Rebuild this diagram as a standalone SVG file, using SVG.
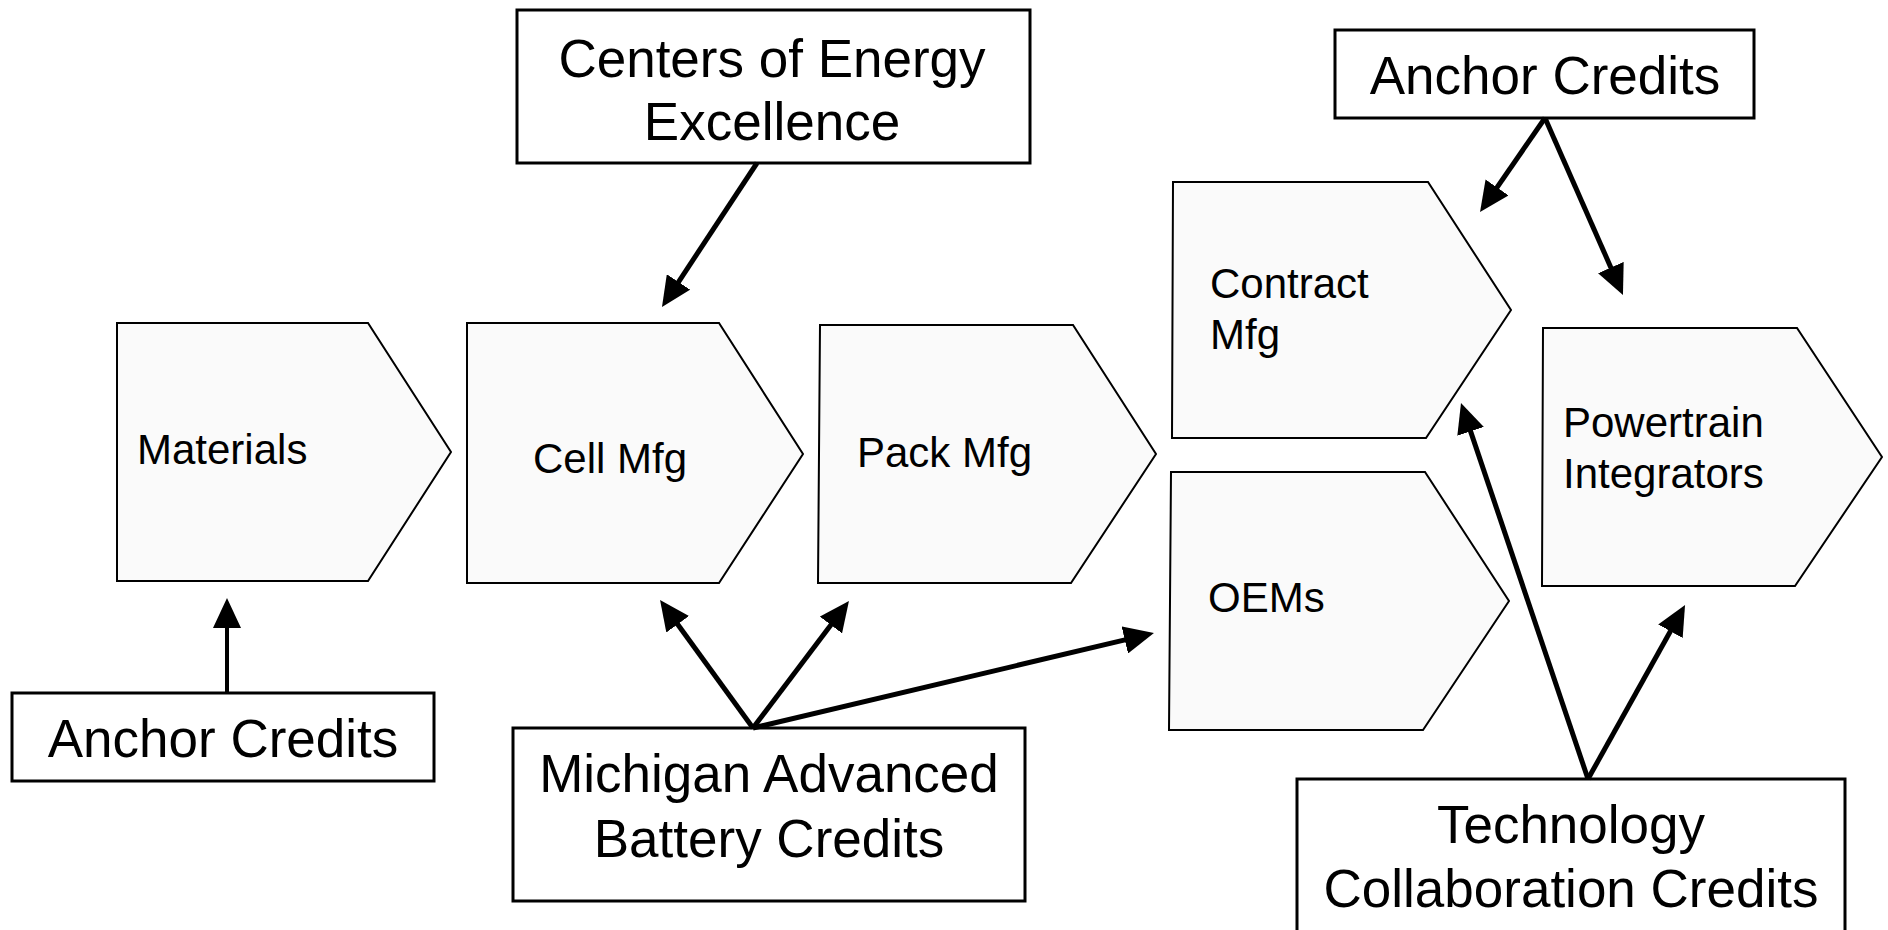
<svg xmlns="http://www.w3.org/2000/svg" width="1888" height="930" viewBox="0 0 1888 930">
<style>
.box{fill:#ffffff;stroke:#000;stroke-width:3}
.stage{fill:#fafafa;stroke:#000;stroke-width:2}
.big{font-family:"Liberation Sans",Arial,sans-serif;font-size:53px;fill:#000;text-anchor:middle}
.lab{font-family:"Liberation Sans",Arial,sans-serif;font-size:42px;fill:#000}
.con{stroke:#000;stroke-width:5;fill:none;marker-end:url(#ah)}
</style>
<defs>
<marker id="ah" markerUnits="userSpaceOnUse" markerWidth="30" markerHeight="28" viewBox="0 0 30 28" refX="10" refY="14" orient="auto">
<path d="M0,0 L30,14 L0,28 z" fill="#000"/>
</marker>
</defs>
<rect width="1888" height="930" fill="#fff"/>

<g id="centers">
<rect class="box" x="517" y="10" width="513" height="153"/>
<text class="big" x="772" y="77">Centers of Energy</text>
<text class="big" x="772" y="140">Excellence</text>
</g>
<g id="anchor-top">
<rect class="box" x="1335" y="30" width="419" height="88"/>
<text class="big" x="1545" y="94">Anchor Credits</text>
</g>
<g id="materials">
<path class="stage" d="M117,323 L368,323 L451,452 L368,581 L117,581 Z"/>
<text class="lab" x="137" y="464">Materials</text>
</g>
<g id="cell">
<path class="stage" d="M467,323 L719,323 L803,454 L719,583 L467,583 Z"/>
<text class="lab" x="533" y="473">Cell Mfg</text>
</g>
<g id="pack">
<path class="stage" d="M820,325 L1073,325 L1156,454 L1071,583 L818,583 Z"/>
<text class="lab" x="857" y="467">Pack Mfg</text>
</g>
<g id="contract">
<path class="stage" d="M1173,182 L1428,182 L1511,310 L1426,438 L1172,438 Z"/>
<text class="lab" x="1210" y="298">Contract</text>
<text class="lab" x="1210" y="349">Mfg</text>
</g>
<g id="oems">
<path class="stage" d="M1171,472 L1425,472 L1509,601 L1423,730 L1169,730 Z"/>
<text class="lab" x="1208" y="612">OEMs</text>
</g>
<g id="powertrain">
<path class="stage" d="M1543,328 L1797,328 L1882,457 L1795,586 L1542,586 Z"/>
<text class="lab" x="1563" y="437">Powertrain</text>
<text class="lab" x="1563" y="488">Integrators</text>
</g>
<g id="anchor-bottom">
<rect class="box" x="12" y="693" width="422" height="88"/>
<text class="big" x="223" y="757">Anchor Credits</text>
</g>
<g id="michigan">
<rect class="box" x="513" y="728" width="512" height="173"/>
<text class="big" x="769" y="792">Michigan Advanced</text>
<text class="big" x="769" y="857">Battery Credits</text>
</g>
<g id="technology">
<rect class="box" x="1297" y="779" width="548" height="170"/>
<text class="big" x="1571" y="843">Technology</text>
<text class="big" x="1571" y="907">Collaboration Credits</text>
</g>

<g id="connectors">
<line class="con" x1="757" y1="163" x2="673" y2="290.3"/>
<line class="con" style="stroke-width:4" x1="227" y1="693" x2="227" y2="618"/>
<line class="con" x1="753" y1="728" x2="671.8" y2="616.2"/>
<line class="con" x1="753" y1="728" x2="836.9" y2="617"/>
<line class="con" x1="753" y1="728" x2="1134.5" y2="637.6"/>
<line class="con" x1="1545" y1="118" x2="1491.4" y2="195.6"/>
<line class="con" x1="1545" y1="118" x2="1614.9" y2="276.7"/>
<line class="con" x1="1588" y1="779" x2="1467.4" y2="421.9"/>
<line class="con" x1="1588" y1="779" x2="1675.3" y2="622.5"/>
</g>
</svg>
